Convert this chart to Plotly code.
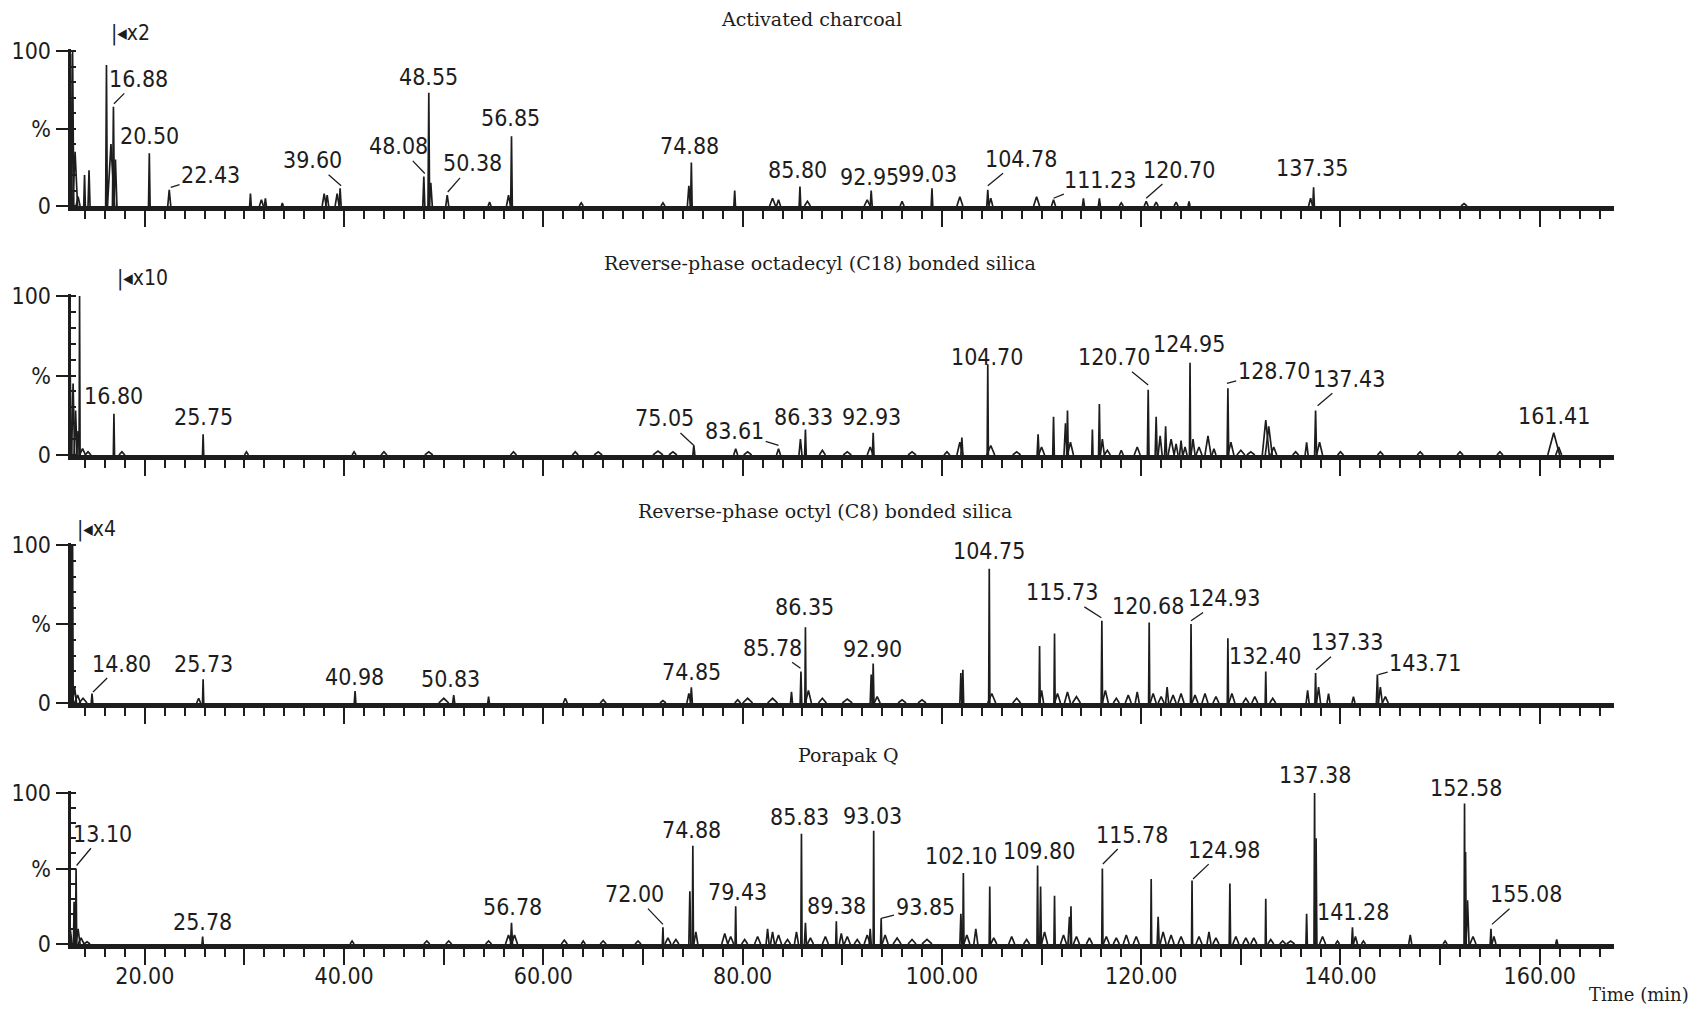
import plotly.graph_objects as go

# ---------------- data (retention time in min, relative intensity in %) ----------------
PANEL_TITLES = ["Activated charcoal",
                "Reverse-phase octadecyl (C18) bonded silica",
                "Reverse-phase octyl (C8) bonded silica",
                "Porapak Q"]
MAGNIFICATIONS = ["x2", "x10", "x4", None]

X_MAJOR_TICKS = [20, 30, 40, 50, 60, 70, 80, 90, 100, 110, 120, 130, 140, 150, 160]
X_TICK_LABELS = ["20.00", "", "40.00", "", "60.00", "", "80.00", "", "100.00", "",
                 "120.00", "", "140.00", "", "160.00"]
Y_TICKS = [0, 50, 100]
Y_TICK_LABELS = ["0", "%", "100"]

# Panel 1: Activated charcoal
P1_TIMES = [12.55, 12.75, 13.0, 13.3, 13.95, 14.4, 16.15, 16.6, 16.85, 17.05,
            20.45, 22.45, 30.6, 31.7, 32.1, 33.8, 38.0, 38.3, 39.3, 39.6,
            48.0, 48.5, 48.7, 50.35, 54.6, 56.5, 56.8, 63.8, 72.0, 74.6,
            74.85, 79.2, 83.0, 83.6, 85.75, 86.5, 92.5, 92.9, 96.0, 99.0,
            101.8, 104.6, 104.9, 109.5, 111.2, 114.2, 115.8, 118.0, 120.5, 121.5,
            123.5, 124.8, 137.0, 137.3, 152.4]
P1_HEIGHTS = [98, 100, 35, 6, 20, 23, 91, 40, 64, 30,
              34, 10.5, 8, 4, 5, 2, 8, 7, 8, 11.5,
              19, 73, 15, 7, 2.5, 7, 45, 2, 2, 13,
              28, 10, 5, 4, 12.5, 3, 4, 10, 3, 11.5,
              6, 10.5, 5, 6, 4, 5, 5, 2, 3, 2.5,
              2.5, 3, 5, 12, 1.5]
P1_WIDTHS = [0.12, 0.12, 0.25, 0.2, 0.08, 0.1, 0.08, 0.35, 0.1, 0.15,
             0.08, 0.15, 0.08, 0.2, 0.1, 0.1, 0.2, 0.15, 0.2, 0.1,
             0.1, 0.08, 0.15, 0.15, 0.15, 0.2, 0.08, 0.2, 0.2, 0.15,
             0.08, 0.08, 0.3, 0.2, 0.08, 0.3, 0.3, 0.1, 0.2, 0.08,
             0.3, 0.1, 0.2, 0.3, 0.2, 0.1, 0.1, 0.2, 0.2, 0.2,
             0.2, 0.1, 0.2, 0.08, 0.3]
P1_LABELS = ["16.88", "20.50", "22.43", "39.60", "48.08", "48.55", "50.38", "56.85",
             "74.88", "85.80", "92.95", "99.03", "104.78", "111.23", "120.70", "137.35"]

# Panel 2: C18
P2_TIMES = [12.5, 12.8, 13.05, 13.3, 13.45, 13.75, 14.3, 16.9, 17.7, 25.85,
            30.2, 41.0, 44.0, 48.5, 57.0, 63.2, 65.5, 71.5, 73.0, 75.1,
            79.3, 80.5, 83.6, 85.8, 86.3, 88.0, 90.5, 92.8, 93.1, 97.0,
            100.5, 101.8, 102.0, 104.6, 104.9, 107.5, 109.65, 110.0, 111.2, 112.4,
            112.6, 112.9, 115.1, 115.8, 116.1, 116.6, 118.0, 119.6, 120.7, 121.5,
            121.9, 122.45, 123.0, 123.5, 124.0, 124.4, 124.9, 125.2, 125.8, 126.7,
            127.3, 128.7, 129.0, 130.0, 131.0, 132.5, 132.8, 133.3, 135.5, 136.6,
            137.5, 137.9, 140.0, 144.0, 148.0, 152.0, 156.0, 161.4, 161.9]
P2_HEIGHTS = [55, 45, 28, 15, 100, 4, 2, 26, 2, 13,
              2, 2, 2, 2, 2, 2, 2, 2.5, 2, 6,
              4, 2, 4, 10, 16, 3, 2, 5, 14, 2,
              2, 8, 11, 57, 6, 2, 13, 5, 24, 20,
              28, 8, 16, 32, 10, 3, 3, 5, 41, 24,
              12, 18, 10, 7, 9, 5, 58, 10, 5, 12,
              4, 42, 8, 3, 2, 22, 18, 5, 2, 8,
              28, 8, 2, 2, 2, 2, 2, 14, 5]
P2_WIDTHS = [0.15, 0.15, 0.15, 0.15, 0.05, 0.3, 0.3, 0.06, 0.3, 0.06,
             0.2, 0.2, 0.3, 0.4, 0.3, 0.3, 0.4, 0.5, 0.4, 0.1,
             0.2, 0.4, 0.2, 0.15, 0.08, 0.3, 0.4, 0.3, 0.08, 0.4,
             0.3, 0.3, 0.1, 0.06, 0.4, 0.4, 0.1, 0.3, 0.08, 0.15,
             0.08, 0.3, 0.06, 0.08, 0.2, 0.3, 0.2, 0.3, 0.08, 0.1,
             0.2, 0.1, 0.3, 0.2, 0.15, 0.2, 0.06, 0.2, 0.3, 0.3,
             0.2, 0.08, 0.3, 0.4, 0.4, 0.35, 0.35, 0.3, 0.3, 0.15,
             0.1, 0.3, 0.3, 0.3, 0.3, 0.3, 0.3, 0.6, 0.3]
P2_LABELS = ["16.80", "25.75", "75.05", "83.61", "86.33", "92.93", "104.70",
             "120.70", "124.95", "128.70", "137.43", "161.41"]

# Panel 3: C8
P3_TIMES = [12.6, 12.75, 12.95, 13.25, 13.8, 14.7, 25.4, 25.85, 41.1, 50.0,
            51.0, 54.5, 62.2, 66.0, 72.0, 74.6, 74.85, 79.5, 80.5, 83.0,
            84.9, 85.85, 86.3, 86.6, 88.0, 90.5, 92.9, 93.1, 93.5, 96.0,
            98.0, 101.9, 102.1, 104.75, 105.0, 107.5, 109.8, 110.0, 111.3, 111.6,
            112.6, 113.5, 116.05, 116.4, 117.5, 118.7, 119.6, 120.8, 121.2, 122.0,
            122.6, 123.2, 124.0, 125.0, 125.4, 126.4, 127.5, 128.7, 129.1, 130.5,
            131.4, 132.5, 133.2, 136.7, 137.5, 137.8, 138.8, 141.3, 143.7, 144.0,
            144.5]
P3_HEIGHTS = [100, 100, 10, 5, 3, 6, 3, 15, 7.5, 3,
              5, 4, 3, 2, 1.5, 6, 10, 2, 3, 3,
              7, 20, 48, 8, 3, 2.5, 18, 25, 4, 2,
              2, 19, 21, 85, 6, 3, 36, 8, 44, 6,
              7, 4, 52, 8, 3, 5, 7, 51, 6, 4,
              10, 5, 6, 50, 5, 6, 4, 41, 6, 3,
              4, 20, 3, 8, 19, 10, 6, 4, 18, 10,
              4]
P3_WIDTHS = [0.06, 0.06, 0.2, 0.3, 0.4, 0.08, 0.2, 0.06, 0.08, 0.5,
             0.1, 0.08, 0.2, 0.3, 0.3, 0.2, 0.1, 0.3, 0.5, 0.5,
             0.1, 0.08, 0.06, 0.3, 0.4, 0.5, 0.1, 0.08, 0.3, 0.4,
             0.4, 0.1, 0.08, 0.06, 0.4, 0.4, 0.06, 0.2, 0.06, 0.3,
             0.3, 0.4, 0.07, 0.3, 0.3, 0.3, 0.2, 0.06, 0.3, 0.3,
             0.15, 0.3, 0.3, 0.06, 0.3, 0.3, 0.3, 0.06, 0.3, 0.3,
             0.3, 0.06, 0.3, 0.15, 0.07, 0.2, 0.15, 0.15, 0.1, 0.2,
             0.3]
P3_LABELS = ["14.80", "25.73", "40.98", "50.83", "74.85", "85.78", "86.35", "92.90",
             "104.75", "115.73", "120.68", "124.93", "132.40", "137.33", "143.71"]

# Panel 4: Porapak Q
P4_TIMES = [12.4, 12.9, 13.1, 13.3, 13.6, 14.2, 25.8, 40.8, 48.3, 50.5,
            54.5, 56.5, 56.8, 57.1, 62.1, 64.0, 66.0, 69.5, 72.0, 72.5,
            73.3, 74.7, 75.0, 75.3, 78.2, 78.8, 79.3, 80.2, 81.5, 82.5,
            83.0, 83.6, 84.5, 85.4, 85.9, 86.3, 86.8, 88.3, 89.4, 89.9,
            90.5, 91.5, 92.5, 92.8, 93.15, 93.9, 94.3, 95.5, 97.0, 98.5,
            101.9, 102.15, 102.5, 103.4, 104.8, 105.2, 107.0, 108.5, 109.6, 109.9,
            110.3, 111.3, 112.2, 112.8, 112.95, 113.5, 114.8, 116.1, 116.5, 117.5,
            118.5, 119.5, 121.0, 121.7, 122.2, 123.0, 124.0, 125.1, 125.8, 126.8,
            127.5, 128.9, 129.5, 130.5, 131.3, 132.5, 133.0, 134.2, 135.0, 136.6,
            137.4, 137.55, 138.2, 139.7, 141.2, 141.5, 142.3, 147.0, 150.5, 152.45,
            152.55, 152.75, 153.3, 155.1, 155.4, 161.7]
P4_HEIGHTS = [16, 28, 50, 10, 4, 1.5, 5, 2, 2, 2,
              2, 6, 14, 6, 2.5, 2, 2, 2, 11, 4,
              3, 35, 65, 8, 7, 5, 25, 3, 5, 10,
              8, 6, 3, 8, 73, 14, 4, 5, 15, 7,
              5, 3, 6, 10, 75, 17, 6, 4, 3, 3,
              20, 47, 6, 10, 38, 4, 5, 3, 52, 38,
              8, 32, 6, 18, 25, 5, 4, 50, 5, 4,
              6, 5, 43, 18, 8, 6, 5, 42, 5, 8,
              4, 40, 5, 4, 4, 30, 3, 2, 2, 20,
              100, 70, 5, 2, 11, 5, 2, 6, 2, 93,
              61, 29, 5, 10, 5, 3]
P4_WIDTHS = [0.3, 0.06, 0.06, 0.2, 0.3, 0.3, 0.06, 0.2, 0.3, 0.3,
             0.3, 0.3, 0.1, 0.3, 0.3, 0.2, 0.3, 0.3, 0.06, 0.3,
             0.3, 0.1, 0.06, 0.2, 0.3, 0.3, 0.06, 0.3, 0.3, 0.15,
             0.2, 0.3, 0.3, 0.2, 0.06, 0.1, 0.3, 0.3, 0.06, 0.2,
             0.3, 0.3, 0.3, 0.1, 0.05, 0.06, 0.3, 0.4, 0.4, 0.5,
             0.1, 0.06, 0.3, 0.2, 0.06, 0.3, 0.3, 0.3, 0.06, 0.08,
             0.3, 0.06, 0.3, 0.15, 0.06, 0.3, 0.3, 0.06, 0.3, 0.3,
             0.3, 0.3, 0.05, 0.1, 0.3, 0.3, 0.3, 0.05, 0.3, 0.2,
             0.3, 0.07, 0.3, 0.3, 0.3, 0.05, 0.3, 0.3, 0.4, 0.07,
             0.06, 0.08, 0.3, 0.2, 0.08, 0.2, 0.2, 0.15, 0.2, 0.05,
             0.07, 0.15, 0.3, 0.08, 0.2, 0.1]
P4_LABELS = ["13.10", "25.78", "56.78", "72.00", "74.88", "79.43", "85.83", "89.38",
             "93.03", "93.85", "102.10", "109.80", "115.78", "124.98", "137.38",
             "141.28", "152.58", "155.08"]

# ---------------- layout (label placement: label x, label y, leader tip x, leader tip y) ----------------
P1_LABEL_POS = [(19.4, 82, 16.9, 66), (20.45, 45, None, None), (26.6, 20, 22.6, 12),
                (36.8, 29.5, 39.7, 13), (45.5, 38.5, 48.1, 21), (48.45, 83, None, None),
                (52.9, 27.5, 50.4, 9), (56.7, 57, None, None), (74.65, 38.5, None, None),
                (85.5, 23.5, None, None), (92.7, 19, None, None), (98.6, 20.5, None, None),
                (107.9, 30.5, 104.6, 13), (115.9, 17, 111.2, 5), (123.8, 23.5, 120.5, 5),
                (137.1, 24.5, None, None)]
P2_LABEL_POS = [(16.9, 37, None, None), (25.85, 24, None, None), (72.2, 23, 75.1, 6),
                (79.2, 15, 83.6, 6), (86.1, 24, None, None), (92.9, 24, None, None),
                (104.55, 61.5, None, None), (117.3, 61.5, 120.7, 44), (124.8, 70, None, None),
                (133.3, 53, 128.6, 45), (140.9, 48, 137.7, 31), (161.4, 24.5, None, None)]
P3_LABEL_POS = [(17.7, 25, 14.8, 7), (25.85, 25, None, None), (41.0, 16.5, None, None),
                (50.7, 15.5, None, None), (74.85, 19.5, None, None), (82.95, 35, 85.8, 22),
                (86.2, 61, None, None), (93.0, 34, None, None), (104.75, 96.5, None, None),
                (112.0, 70, 116.0, 54), (120.7, 61.5, None, None), (128.3, 66.5, 125.0, 52),
                (132.45, 29.5, None, None), (140.7, 38.5, 137.55, 21), (148.5, 25.5, 143.8, 18)]
P4_LABEL_POS = [(15.8, 73, 13.15, 52), (25.8, 14.5, None, None), (56.85, 24.5, None, None),
                (69.1, 33, 72.0, 13), (74.85, 75.5, None, None), (79.45, 34.5, None, None),
                (85.75, 84, None, None), (89.4, 25, None, None), (93.0, 84.5, None, None),
                (98.3, 24.5, 93.9, 17), (101.95, 58, None, None), (109.7, 61.5, None, None),
                (119.1, 72.5, 116.15, 53), (128.3, 62.5, 125.2, 43), (137.45, 112, None, None),
                (141.3, 21, None, None), (152.55, 103.5, None, None), (158.6, 33, 155.2, 13)]
MAG_POS = [(18.6, 111), (19.8, 111), (15.1, 110)]

W, H = 1702, 1016
X_RANGE = [12.55, 167.45]
Y_MAX = 101
X_DOMAIN = [70.6 / W, 1614 / W]
PANEL_PIX = [(206, 51), (455, 296), (703, 545), (944, 793)]   # (y of 0 %, y of 100 %)
TITLE_PIX = [(811, 19.5), (820, 263), (825, 511), (848, 755)]
INK = "#1d1d1d"
NUM_FAMILY = "Liberation Sans Narrow, DejaVu Sans Condensed, Arial Narrow, DejaVu Sans, sans-serif"
SERIF_FAMILY = "DejaVu Serif, Liberation Serif, serif"
NUM_FONT = dict(family=NUM_FAMILY, size=23, color=INK)

PANELS = [
    (P1_TIMES, P1_HEIGHTS, P1_WIDTHS, P1_LABELS, P1_LABEL_POS),
    (P2_TIMES, P2_HEIGHTS, P2_WIDTHS, P2_LABELS, P2_LABEL_POS),
    (P3_TIMES, P3_HEIGHTS, P3_WIDTHS, P3_LABELS, P3_LABEL_POS),
    (P4_TIMES, P4_HEIGHTS, P4_WIDTHS, P4_LABELS, P4_LABEL_POS),
]

fig = go.Figure()

for i, (times, heights, widths, labels, lpos) in enumerate(PANELS):
    n = i + 1
    assert len(times) == len(heights) == len(widths), n
    assert len(labels) == len(lpos), n
    sfx = "" if n == 1 else str(n)
    xs, ys = [], []
    for t, h, w in sorted(zip(times, heights, widths)):
        xs += [t - w, t, t + w, None]
        ys += [0, h, 0, None]
    fig.add_trace(go.Scatter(x=xs, y=ys, mode="lines", xaxis="x" + sfx, yaxis="y" + sfx,
                             line=dict(color=INK, width=1.7), hoverinfo="skip",
                             showlegend=False))

    y0p, y100p = PANEL_PIX[i]
    top = y100p - (y0p - y100p) * (Y_MAX - 100) / 100
    ydom = [1 - y0p / H, 1 - top / H]
    fig.update_layout(**{
        "xaxis" + sfx: dict(domain=X_DOMAIN, range=X_RANGE, anchor="y" + sfx,
                            automargin=False,
                            showline=True, linewidth=5, linecolor=INK, mirror=False,
                            showgrid=False, zeroline=False,
                            tickmode="array", tickvals=X_MAJOR_TICKS,
                            ticktext=X_TICK_LABELS, showticklabels=(n == 4),
                            ticks="outside", ticklen=16, tickwidth=2, tickcolor=INK,
                            tickfont=NUM_FONT, ticklabelstandoff=-9,
                            minor=dict(tickmode="linear", tick0=0, dtick=2, ticks="outside",
                                       ticklen=8, tickwidth=2, tickcolor=INK)),
        "yaxis" + sfx: dict(domain=ydom, range=[0, Y_MAX], anchor="x" + sfx,
                            automargin=False,
                            showline=True, linewidth=3, linecolor=INK,
                            showgrid=False, zeroline=False,
                            tickmode="array", tickvals=Y_TICKS, ticktext=Y_TICK_LABELS,
                            ticks="outside", ticklen=12, tickwidth=2, tickcolor=INK,
                            tickfont=NUM_FONT,
                            minor=dict(tickmode="linear", tick0=0, dtick=10, ticks="inside",
                                       ticklen=5, tickwidth=2, tickcolor=INK)),
    })

    xr, yr = "x" + sfx, "y" + sfx
    for text, (lt, lp, tt, tp) in zip(labels, lpos):
        if tt is None:
            fig.add_annotation(x=lt, y=lp / Y_MAX, xref=xr, yref=yr + " domain", text=text,
                               xanchor="center", yanchor="middle",
                               showarrow=False, font=NUM_FONT)
        else:
            fig.add_annotation(x=tt, y=tp, ax=lt, ay=lp, xref=xr, yref=yr,
                               axref=xr, ayref=yr, text=text, showarrow=True,
                               xanchor="center", yanchor="middle",
                               arrowhead=0, arrowwidth=1.3, arrowcolor=INK,
                               standoff=0, font=NUM_FONT)

    tx, ty = TITLE_PIX[i]
    fig.add_annotation(x=tx / W, y=1 - ty / H, xref="paper", yref="paper",
                       xanchor="center", yanchor="middle",
                       text=PANEL_TITLES[i], showarrow=False,
                       font=dict(family=SERIF_FAMILY, size=19, color=INK))

    if MAGNIFICATIONS[i]:
        mx, my = MAG_POS[i]
        fig.add_annotation(x=mx, y=my / Y_MAX, xref=xr, yref=yr + " domain",
                           xanchor="center", yanchor="middle",
                           text="|◂" + MAGNIFICATIONS[i],
                           showarrow=False, font=dict(family=NUM_FAMILY, size=21, color=INK))

fig.add_annotation(x=1639 / W, y=1 - 994 / H, xref="paper", yref="paper",
                   xanchor="center", yanchor="middle",
                   text="Time (min)", showarrow=False,
                   font=dict(family=SERIF_FAMILY, size=18, color=INK))

fig.update_layout(width=W, height=H,
                  margin=dict(l=0, r=0, t=0, b=0, pad=0, autoexpand=False),
                  paper_bgcolor="white", plot_bgcolor="white", showlegend=False)

fig.write_html("out.html")
